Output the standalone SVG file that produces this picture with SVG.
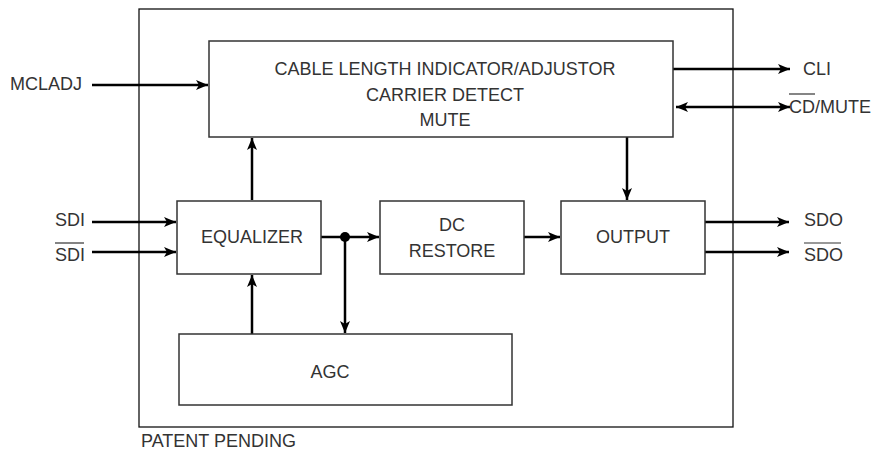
<svg xmlns="http://www.w3.org/2000/svg" width="886" height="450" viewBox="0 0 886 450">
<defs>
<marker id="ah" viewBox="0 0 12 10" refX="12" refY="5" markerWidth="12" markerHeight="10" markerUnits="userSpaceOnUse" orient="auto-start-reverse">
<path d="M0,0 L12,5 L0,10 L3,5 Z" fill="#000"/>
</marker>
<style>
.box{fill:#fff;stroke:#333;stroke-width:1.5}
.frame{fill:none;stroke:#111;stroke-width:1.3}
.t{font-family:"Liberation Sans",Arial,sans-serif;font-size:18px;fill:#333}
.c{text-anchor:middle}
.w{stroke:#000;stroke-width:2.5;fill:none}
.a{marker-end:url(#ah)}
.ov{stroke:#333;stroke-width:1.2}
</style>
</defs>
<rect id="frame" class="frame" x="139" y="9" width="594" height="418"/>
<g id="connectors">
<line class="w a" x1="92" y1="85" x2="208" y2="85"/>
<line class="w a" x1="673" y1="69" x2="790" y2="69"/>
<line class="w a" x1="676" y1="107" x2="790" y2="107" style="marker-start:url(#ah)"/>
<line class="w a" x1="92" y1="222" x2="176" y2="222"/>
<line class="w a" x1="92" y1="252" x2="176" y2="252"/>
<line class="w a" x1="252" y1="200" x2="252" y2="138"/>
<line class="w a" x1="627" y1="137" x2="627" y2="200"/>
<line class="w a" x1="321" y1="237" x2="379" y2="237"/>
<line class="w a" x1="524" y1="237" x2="560" y2="237"/>
<line class="w a" x1="345" y1="237" x2="345" y2="333"/>
<line class="w a" x1="252" y1="334" x2="252" y2="275"/>
<line class="w a" x1="705" y1="222" x2="789" y2="222"/>
<line class="w a" x1="705" y1="252" x2="789" y2="252"/>
<circle cx="345" cy="237" r="5" fill="#000"/>
</g>
<g id="top">
<rect class="box" x="209" y="41" width="464" height="96"/>
<text class="t c" x="445" y="75">CABLE LENGTH INDICATOR/ADJUSTOR</text>
<text class="t c" x="445" y="101">CARRIER DETECT</text>
<text class="t c" x="445" y="126">MUTE</text>
</g>
<g id="equalizer">
<rect class="box" x="177" y="201" width="144" height="73"/>
<text class="t c" x="252" y="243">EQUALIZER</text>
</g>
<g id="dcrestore">
<rect class="box" x="380" y="201" width="144" height="73"/>
<text class="t c" x="452" y="231">DC</text>
<text class="t c" x="452" y="257">RESTORE</text>
</g>
<g id="output">
<rect class="box" x="561" y="201" width="144" height="73"/>
<text class="t c" x="633" y="243">OUTPUT</text>
</g>
<g id="agc">
<rect class="box" x="179" y="334" width="333" height="71"/>
<text class="t c" x="330" y="378">AGC</text>
</g>
<g id="labels">
<text class="t" x="10" y="90">MCLADJ</text>
<text class="t" x="803" y="75">CLI</text>
<text class="t" x="789" y="113">CD/MUTE</text>
<line class="ov" x1="789" y1="94" x2="815" y2="94"/>
<text class="t" x="55" y="226">SDI</text>
<text class="t" x="55" y="261">SDI</text>
<line class="ov" x1="55" y1="243" x2="84" y2="243"/>
<text class="t" x="804" y="226">SDO</text>
<text class="t" x="804" y="261">SDO</text>
<line class="ov" x1="804" y1="243" x2="841" y2="243"/>
<text class="t" x="141" y="447">PATENT PENDING</text>
</g>
</svg>
